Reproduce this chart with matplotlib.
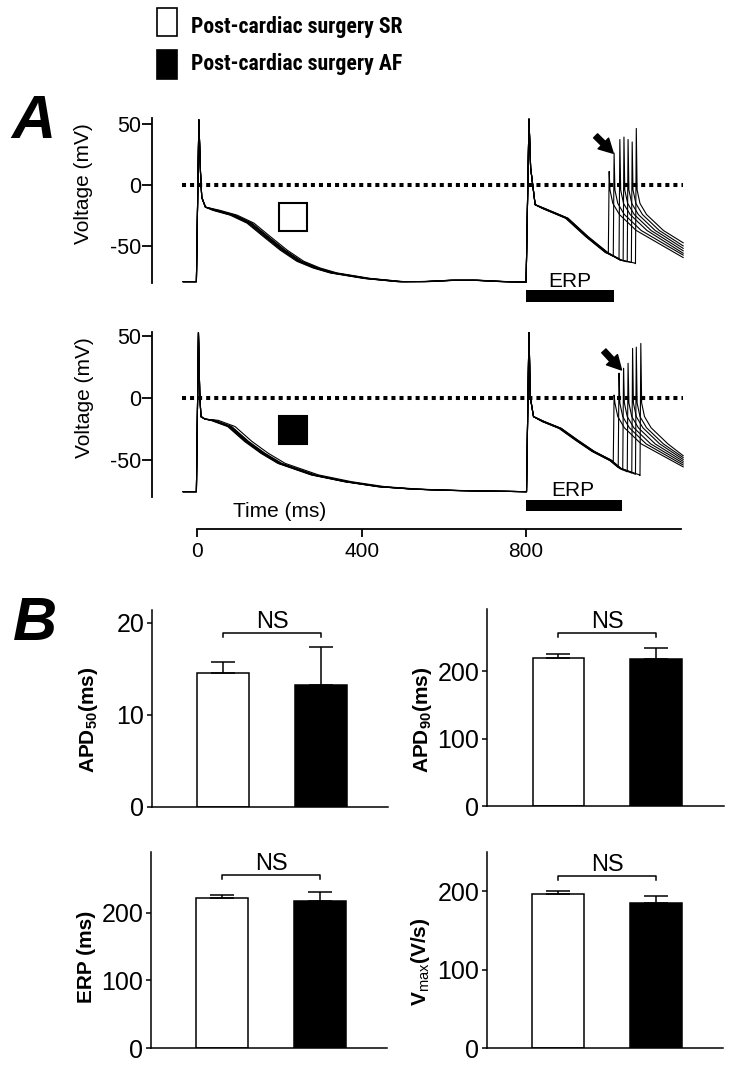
import numpy as np
import matplotlib
matplotlib.use('Agg')
import matplotlib.pyplot as plt
from matplotlib.patches import Rectangle
from matplotlib import font_manager
from matplotlib.font_manager import FontProperties

W, H = 736, 1068
plt.rcParams['font.family'] = ['Liberation Sans', 'DejaVu Sans']
plt.rcParams['axes.unicode_minus'] = False
plt.rcParams['mathtext.fontset'] = 'custom'
plt.rcParams['mathtext.rm'] = 'Liberation Sans'
plt.rcParams['mathtext.it'] = 'Liberation Sans:italic'
plt.rcParams['mathtext.bf'] = 'Liberation Sans:bold'


def _wnum(w):
    if isinstance(w, (int, float)):
        return w
    return {'bold': 700, 'heavy': 800, 'black': 900, 'semibold': 600, 'demibold': 600}.get(str(w).lower(), 400)


def find_condensed_bold():
    best = None
    best_rank = 99
    for f in font_manager.fontManager.ttflist:
        nm = f.name.lower()
        st = str(f.stretch).lower()
        if 'italic' in str(f.style).lower() or 'oblique' in str(f.style).lower():
            continue
        if _wnum(f.weight) < 600:
            continue
        cond = ('narrow' in nm or 'condensed' in nm or 'narrow' in st or 'condensed' in st
                or 'narrow' in f.fname.lower() or 'condensed' in f.fname.lower())
        if not cond:
            continue
        if 'liberation' in nm:
            rank = 0
        elif 'roboto' in nm:
            rank = 1
        elif 'open sans' in nm:
            rank = 2
        elif 'dejavu' in nm:
            rank = 3
        else:
            rank = 4
        if rank < best_rank:
            best, best_rank = f, rank
    return best


_cf = find_condensed_bold()

# ---------------- data ----------------
groups = ['Post-cardiac surgery SR', 'Post-cardiac surgery AF']

# Panel A, SR (top) sweep keypoints (time ms, voltage mV)
sr_ap1_t = [-34, -2, 4, 8, 11, 20, 45, 88, 129, 169, 210, 250, 290, 331, 413, 494, 560, 620, 680, 740, 798]
sr_ap1_v = [-78.6, -78.6, 53, 10, -10, -18, -20.5, -24.5, -31, -42, -53, -62, -67.5, -71.5, -76, -78.6,
            -78.5, -77.5, -77.5, -78.5, -79]
sr_ap2_t = [800, 807, 811, 822, 842, 899, 948, 996, 1028, 1061, 1080]
sr_ap2_v = [-79, 53.6, 14, -16, -19, -27, -42, -55, -61, -63.5, -64.5]
sr_shift1 = [-8, -5, -3, 0, 2, 4, 9]
sr_shift2 = [-3, -2, -1, 0, 1, 2, 3]
sr_s2_t = [1000, 1012, 1026, 1036, 1046, 1056, 1066]
sr_s2_take = [-55, -58, -60, -61.5, -62.5, -63, -64]
sr_s2_peak = [11, 26, 37, 39, 37, 35, 46]
sr_s2_end = [-59, -57, -55.5, -53.5, -51.5, -49.5, -47]

# Panel A, AF (bottom)
af_ap1_t = [-34, -2, 3, 6, 9, 19, 39, 80, 121, 161, 202, 283, 364, 445, 530, 620, 700, 798]
af_ap1_v = [-75.5, -75.5, 52.7, 5, -15, -17, -18, -23, -35, -44.6, -52.7, -62, -67.5, -71.5, -73.5,
            -74.5, -75, -75.5]
af_ap2_t = [801, 807, 810, 818, 842, 883, 923, 963, 1004, 1028, 1073, 1090]
af_ap2_v = [-75.5, 54.8, 1, -15, -19, -24.5, -34, -43, -50, -56.7, -62, -63]
af_shift1 = [-6, -4, -2, 0, 2, 4, 12]
af_shift2 = [-3, -2, -1, 0, 1, 2, 3]
af_s2_t = [1012, 1024, 1035, 1046, 1057, 1066, 1077]
af_s2_take = [-51, -56, -58, -59.5, -60.5, -61.5, -62.5]
af_s2_peak = [2.4, 20, 24, 28, 40, 41, 44]
af_s2_end = [-55.5, -54, -52.5, -51, -49.5, -48, -46.5]

# decay of premature responses (ms after takeoff, mV)
s2_rel_t = [4, 11, 27, 68]
s2_rel_v = [-4, -15, -24, -37]
sweep_end = 1182

erp_end = [1014, 1034]     # ERP bars (from 800 ms)
time_ticks = [0, 400, 800]
volt_ticks = [-50, 0, 50]

# Panel B
apd50_mean = [14.6, 13.2]; apd50_err = [1.2, 4.2]
apd90_mean = [219, 218];   apd90_err = [6, 16]
erp_mean = [222, 218];     erp_err = [5, 13]
vmax_mean = [197, 185];    vmax_err = [3, 9]

# ---------------- helpers ----------------
def rect(l, t, r, b):
    return [l / W, 1 - b / H, (r - l) / W, (b - t) / H]

def fx(x):
    return x / W

def fy(y):
    return 1 - y / H

def sweep(ap1_t, ap1_v, sh1, ap2_t, ap2_v, sh2, ts, vtake, peak, vend):
    t = [x + (sh1 if 30 <= x < 790 else 0) for x in ap1_t]
    v = list(ap1_v)
    for x, y in zip(ap2_t, ap2_v):
        xx = x + (sh2 if x >= 840 else 0)
        if xx < ts:
            t.append(xx)
            v.append(y)
    t += [ts, ts + 2] + [ts + r for r in s2_rel_t] + [sweep_end]
    v += [vtake, peak] + s2_rel_v + [vend]
    return t, v

fig = plt.figure(figsize=(W / 100, H / 100), dpi=100)

XL = (-110, 1185)
xr = 197 + 0.4113 * 1185

def trace_axes(r, ylim):
    ax = fig.add_axes(r)
    ax.set_xlim(*XL)
    ax.set_ylim(*ylim)
    for s in ['top', 'right']:
        ax.spines[s].set_visible(False)
    ax.spines['left'].set_linewidth(1.3)
    ax.set_yticks(volt_ticks)
    ax.tick_params(axis='y', direction='out', length=7, width=1.3, pad=1, labelsize=15.5)
    ax.patch.set_visible(False)
    return ax

ax1 = trace_axes(rect(152, 118, xr, 283), (-79.7, 54.5))
ax1.spines['bottom'].set_visible(False)
ax1.set_xticks([])
ax2 = trace_axes(rect(152, 332, xr, 497), (-79.8, 53.2))
ax2.spines['bottom'].set_position(('outward', 32 * 0.72))
ax2.spines['bottom'].set_bounds(0, 1177)
ax2.spines['bottom'].set_linewidth(1.3)
ax2.set_xticks(time_ticks)
ax2.tick_params(axis='x', direction='out', length=5.5, width=1.3, pad=4, labelsize=15)

panels = [
    (ax1, sr_ap1_t, sr_ap1_v, sr_shift1, sr_ap2_t, sr_ap2_v, sr_shift2, sr_s2_t, sr_s2_take, sr_s2_peak, sr_s2_end),
    (ax2, af_ap1_t, af_ap1_v, af_shift1, af_ap2_t, af_ap2_v, af_shift2, af_s2_t, af_s2_take, af_s2_peak, af_s2_end),
]
for ax, a1t, a1v, s1, a2t, a2v, s2, st, stake, spk, send in panels:
    for i in range(len(st)):
        t, v = sweep(a1t, a1v, s1[i], a2t, a2v, s2[i], st[i], stake[i], spk[i], send[i])
        ax.plot(t, v, color='black', lw=0.8, solid_joinstyle='round')
    ax.hlines(0, -36, 1182, colors='black', linestyles=(0, (1, 1)), lw=2.9)

# squares indicating group
ax1.add_patch(Rectangle((199, -37.4), 68, 22.8, facecolor='white', edgecolor='black', lw=1.5, zorder=5))
ax2.add_patch(Rectangle((199, -37.1), 68, 22.6, facecolor='black', edgecolor='black', lw=1.5, zorder=5))

# ERP bars
ax1.add_patch(Rectangle((800, -95.1), erp_end[0] - 800, 9.7, facecolor='black', edgecolor='none', clip_on=False))
ax2.add_patch(Rectangle((800, -90.9), erp_end[1] - 800, 8.6, facecolor='black', edgecolor='none', clip_on=False))
fig.text(fx(570), fy(287), 'ERP', ha='center', va='baseline', fontsize=15)
fig.text(fx(573), fy(496), 'ERP', ha='center', va='baseline', fontsize=15)

# arrows
arrow_style = 'simple,head_length=0.42,head_width=0.45,tail_width=0.17'
ax1.annotate('', xy=(1012, 25.8), xytext=(969, 40),
             arrowprops=dict(arrowstyle=arrow_style, color='black', shrinkA=0, shrinkB=0, mutation_scale=24))
ax2.annotate('', xy=(1032, 22.6), xytext=(989, 38),
             arrowprops=dict(arrowstyle=arrow_style, color='black', shrinkA=0, shrinkB=0, mutation_scale=24))

fig.text(fx(83.5), fy(184), 'Voltage (mV)', rotation=90, ha='center', va='center', fontsize=15)
fig.text(fx(84), fy(398), 'Voltage (mV)', rotation=90, ha='center', va='center', fontsize=15)
fig.text(fx(280), fy(517), 'Time (ms)', ha='center', va='baseline', fontsize=15)

# panel letters
fig.text(fx(33), fy(138), 'A', ha='center', va='baseline', fontsize=44, fontweight='heavy', fontstyle='italic')
fig.text(fx(35), fy(640), 'B', ha='center', va='baseline', fontsize=44, fontweight='heavy', fontstyle='italic')

# legend
fig.add_artist(Rectangle((fx(157), fy(36)), 20 / W, 28 / H, transform=fig.transFigure,
                         facecolor='white', edgecolor='black', lw=1.2))
fig.add_artist(Rectangle((fx(157), fy(79)), 20 / W, 29 / H, transform=fig.transFigure,
                         facecolor='black', edgecolor='black', lw=1.2))
if _cf is not None:
    leg_fp = FontProperties(fname=_cf.fname, size=17)
else:
    leg_fp = FontProperties(family='Liberation Sans', weight='bold', size=17)
leg_texts = [
    fig.text(fx(191), fy(33.3), groups[0], ha='left', va='baseline', fontproperties=leg_fp),
    fig.text(fx(191), fy(70), groups[1], ha='left', va='baseline', fontproperties=leg_fp.copy()),
]
fig.canvas.draw()
_r = fig.canvas.get_renderer()
_w = leg_texts[0].get_window_extent(_r).width
_size = 17 * 211.0 / _w
for t in leg_texts:
    t.set_fontsize(_size)

# ---------------- panel B ----------------
def bar_panel(r, mean, err, ylim, yticks, bracket_y, label, label_xy):
    ax = fig.add_axes(r)
    ax.set_xlim(-0.73, 1.69)
    ax.set_ylim(0, ylim)
    for s in ['top', 'right']:
        ax.spines[s].set_visible(False)
    for s in ['left', 'bottom']:
        ax.spines[s].set_linewidth(1.1)
    ax.bar([0, 1], mean, width=0.53, color=['white', 'black'], edgecolor='black', lw=1.1, zorder=2)
    ax.errorbar([0, 1], mean, yerr=[[0, 0], err], fmt='none', ecolor='black', elinewidth=1.1,
                capsize=8.3, capthick=1.1, zorder=3)
    ax.set_xticks([])
    ax.set_yticks(yticks)
    ax.tick_params(axis='y', direction='out', length=3.6, width=1.1, pad=2, labelsize=18)
    hpx = r[3] * H
    d = 4 * ylim / hpx
    g = 5 * ylim / hpx
    ax.plot([0, 0, 1, 1], [bracket_y - d, bracket_y, bracket_y, bracket_y - d], color='black', lw=1.1)
    ax.text(0.5, bracket_y + g, 'NS', ha='center', va='baseline', fontsize=17)
    fig.text(fx(label_xy[0]), fy(label_xy[1]), label, rotation=90, ha='center', va='center',
             fontsize=15, fontweight='bold')
    return ax

bar_panel(rect(152, 610, 388, 807), apd50_mean, apd50_err, 21.4, [0, 10, 20], 18.9,
          r'APD$_{\mathbf{50}}$(ms)', (88, 720))
bar_panel(rect(487, 609, 724, 806), apd90_mean, apd90_err, 292, [0, 100, 200], 256,
          r'APD$_{\mathbf{90}}$(ms)', (422, 720))
bar_panel(rect(151, 852, 387, 1048), erp_mean, erp_err, 290, [0, 100, 200], 256,
          'ERP (ms)', (86, 957))
bar_panel(rect(487, 852, 723, 1048), vmax_mean, vmax_err, 250, [0, 100, 200], 219,
          r'V$_{\mathrm{max}}$(V/s)', (420, 962))

fig.savefig('out.png', dpi=100)
